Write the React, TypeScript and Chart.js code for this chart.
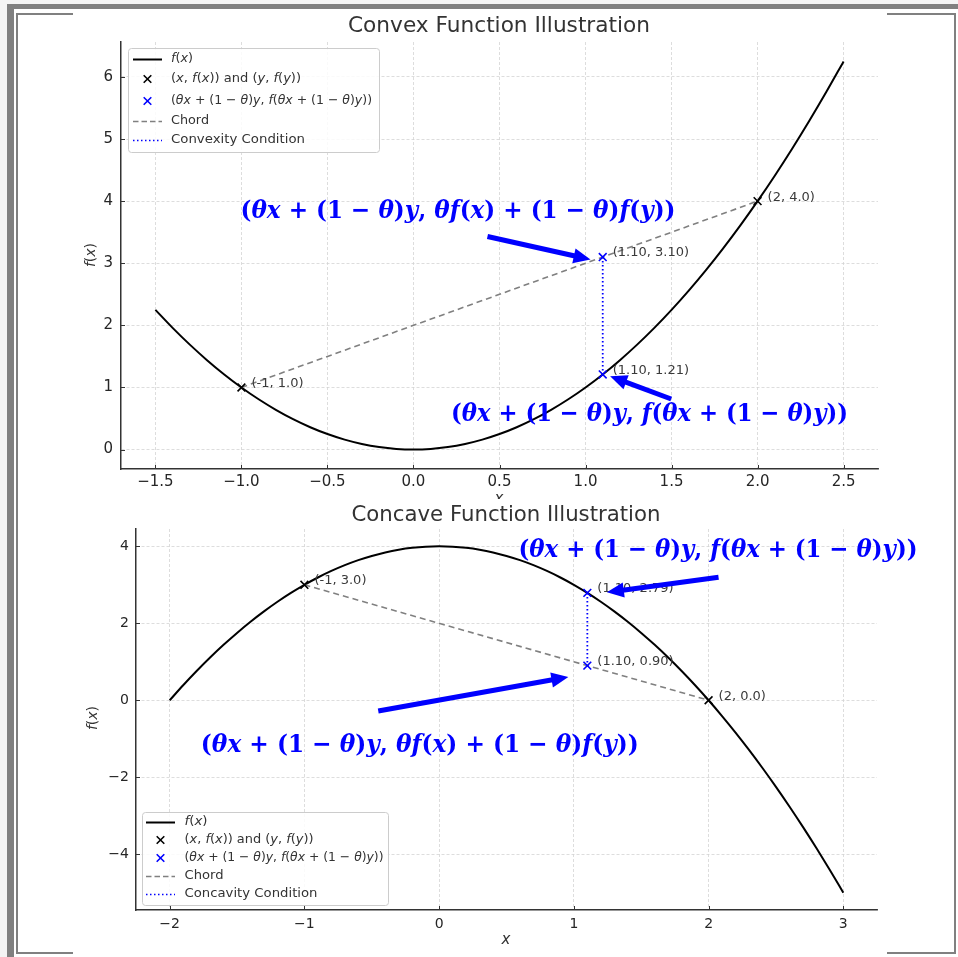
import React, { useEffect, useRef } from "react";
import { Chart, registerables } from "chart.js";

Chart.register(...registerables);

// ---------------- Convex chart data ----------------
const CONVEX_CURVE_X = [-1.5, -1.4, -1.3, -1.2, -1.1, -1.0, -0.9, -0.8, -0.7, -0.6, -0.5, -0.4, -0.3, -0.2, -0.1, 0, 0.1, 0.2, 0.3, 0.4, 0.5, 0.6, 0.7, 0.8, 0.9, 1.0, 1.1, 1.2, 1.3, 1.4, 1.5, 1.6, 1.7, 1.8, 1.9, 2.0, 2.1, 2.2, 2.3, 2.4, 2.5];
const CONVEX_CURVE_Y = [2.25, 1.96, 1.69, 1.44, 1.21, 1, 0.81, 0.64, 0.49, 0.36, 0.25, 0.16, 0.09, 0.04, 0.01, 0, 0.01, 0.04, 0.09, 0.16, 0.25, 0.36, 0.49, 0.64, 0.81, 1, 1.21, 1.44, 1.69, 1.96, 2.25, 2.56, 2.89, 3.24, 3.61, 4, 4.41, 4.84, 5.29, 5.76, 6.25];
const CONVEX_END_X = [-1, 2];
const CONVEX_END_Y = [1.0, 4.0];
const CONVEX_END_LABELS = ["(-1, 1.0)", "(2, 4.0)"];
const CONVEX_MID_X = [1.1, 1.1];
const CONVEX_MID_Y = [3.1, 1.21];
const CONVEX_MID_LABELS = ["(1.10, 3.10)", "(1.10, 1.21)"];
const CONVEX_X_TICKS = [-1.5, -1.0, -0.5, 0.0, 0.5, 1.0, 1.5, 2.0, 2.5];
const CONVEX_Y_TICKS = [0, 1, 2, 3, 4, 5, 6];

// ---------------- Concave chart data ----------------
const CONCAVE_CURVE_X = [-2, -1.9, -1.8, -1.7, -1.6, -1.5, -1.4, -1.3, -1.2, -1.1, -1, -0.9, -0.8, -0.7, -0.6, -0.5, -0.4, -0.3, -0.2, -0.1, 0, 0.1, 0.2, 0.3, 0.4, 0.5, 0.6, 0.7, 0.8, 0.9, 1.0, 1.1, 1.2, 1.3, 1.4, 1.5, 1.6, 1.7, 1.8, 1.9, 2.0, 2.1, 2.2, 2.3, 2.4, 2.5, 2.6, 2.7, 2.8, 2.9, 3.0];
const CONCAVE_CURVE_Y = [0, 0.39, 0.76, 1.11, 1.44, 1.75, 2.04, 2.31, 2.56, 2.79, 3, 3.19, 3.36, 3.51, 3.64, 3.75, 3.84, 3.91, 3.96, 3.99, 4, 3.99, 3.96, 3.91, 3.84, 3.75, 3.64, 3.51, 3.36, 3.19, 3, 2.79, 2.56, 2.31, 2.04, 1.75, 1.44, 1.11, 0.76, 0.39, 0, -0.41, -0.84, -1.29, -1.76, -2.25, -2.76, -3.29, -3.84, -4.41, -5];
const CONCAVE_END_X = [-1, 2];
const CONCAVE_END_Y = [3.0, 0.0];
const CONCAVE_END_LABELS = ["(-1, 3.0)", "(2, 0.0)"];
const CONCAVE_MID_X = [1.1, 1.1];
const CONCAVE_MID_Y = [2.79, 0.9];
const CONCAVE_MID_LABELS = ["(1.10, 2.79)", "(1.10, 0.90)"];
const CONCAVE_X_TICKS = [-2, -1, 0, 1, 2, 3];
const CONCAVE_Y_TICKS = [-4, -2, 0, 2, 4];

// ---------------- Annotation texts ----------------
const ANNOT_CHORD = "(θx + (1 − θ)y, θf(x) + (1 − θ)f(y))";
const ANNOT_FUNC = "(θx + (1 − θ)y, f(θx + (1 − θ)y))";

type Seg = { t: string; m: boolean };
const LEG_FX: Seg[] = [{ t: "f(x)", m: true }];
const LEG_ENDS: Seg[] = [{ t: "(x, f(x))", m: true }, { t: " and ", m: false }, { t: "(y, f(y))", m: true }];
const LEG_MID: Seg[] = [{ t: "(θx + (1 − θ)y, f(θx + (1 − θ)y))", m: true }];
const LEG_CHORD: Seg[] = [{ t: "Chord", m: false }];
const LEG_CONVEX: Seg[] = [{ t: "Convexity Condition", m: false }];
const LEG_CONCAVE: Seg[] = [{ t: "Concavity Condition", m: false }];

// ---------------- helpers ----------------
type Run = { t: string; it: boolean; w?: number; math?: boolean };
function runsOf(segs: Seg[]): Run[] {
  const runs: Run[] = [];
  for (const s of segs) {
    if (!s.m) {
      runs.push({ t: s.t, it: false });
      continue;
    }
    for (const ch of s.t) {
      const it = /[A-Za-zθ]/.test(ch);
      const last = runs[runs.length - 1];
      if (last && last.it === it && last.math) last.t += ch;
      else runs.push({ t: ch, it, math: true });
    }
  }
  return runs;
}

function drawRich(
  ctx: CanvasRenderingContext2D,
  segs: Seg[],
  x: number,
  y: number,
  size: number,
  family: string,
  weight: string,
  color: string,
  align: "left" | "center",
  fitW?: number
) {
  const runs = runsOf(segs);
  const font = (it: boolean) => `${it ? "italic " : ""}${weight} ${size}px ${family}`;
  ctx.save();
  let total = 0;
  for (const r of runs) {
    ctx.font = font(r.it);
    r.w = ctx.measureText(r.t).width;
    total += r.w;
  }
  const sx = fitW ? fitW / total : 1;
  const w = total * sx;
  const left = align === "center" ? x - w / 2 : x;
  ctx.translate(left, y);
  ctx.scale(sx, 1);
  ctx.fillStyle = color;
  ctx.textBaseline = "middle";
  ctx.textAlign = "left";
  let cx = 0;
  for (const r of runs) {
    ctx.font = font(r.it);
    ctx.fillText(r.t, cx, 0);
    cx += r.w!;
  }
  ctx.restore();
}

function drawArrow(ctx: CanvasRenderingContext2D, x1: number, y1: number, x2: number, y2: number, color: string) {
  const a = Math.atan2(y2 - y1, x2 - x1);
  const c = Math.cos(a);
  const s = Math.sin(a);
  const headL = 17;
  const headW = 7.5;
  const bx = x2 - headL * c;
  const by = y2 - headL * s;
  ctx.save();
  ctx.strokeStyle = color;
  ctx.fillStyle = color;
  ctx.lineWidth = 5;
  ctx.lineCap = "butt";
  ctx.beginPath();
  ctx.moveTo(x1, y1);
  ctx.lineTo(bx + c * 1, by + s * 1);
  ctx.stroke();
  ctx.beginPath();
  ctx.moveTo(x2, y2);
  ctx.lineTo(bx - s * headW, by + c * headW);
  ctx.lineTo(bx + s * headW, by - c * headW);
  ctx.closePath();
  ctx.fill();
  ctx.restore();
}

function drawCross(ctx: CanvasRenderingContext2D, x: number, y: number, r: number, color: string) {
  ctx.save();
  ctx.strokeStyle = color;
  ctx.lineWidth = 1.6;
  ctx.beginPath();
  ctx.moveTo(x - r, y - r);
  ctx.lineTo(x + r, y + r);
  ctx.moveTo(x - r, y + r);
  ctx.lineTo(x + r, y - r);
  ctx.stroke();
  ctx.restore();
}

type LegendEntry = { kind: "line" | "mark" | "dash" | "dot"; color: string; segs: Seg[]; w: number };

interface Spec {
  curveX: number[];
  curveY: number[];
  endX: number[];
  endY: number[];
  endLabels: string[];
  midX: number[];
  midY: number[];
  midLabels: string[];
  xTicks: number[];
  yTicks: number[];
  xMin: number;
  xMax: number;
  yMin: number;
  yMax: number;
  xFmt: (v: number) => string;
  yFmt: (v: number) => string;
  tickSize: number;
  xPad: number;
  yPad: number;
  padTop: number;
  padRight: number;
  yW: number;
  xH: number;
  title: string;
  titlePos: [number, number, number];
  yLabelPos: [number, number];
  xLabelPos: [number, number];
  annots: { text: string; pos: [number, number]; w: number; tail: [number, number]; tip: [number, number] }[];
  legend: { box: [number, number, number, number]; rows: number[]; sampleX: number; textX: number; entries: LegendEntry[] };
}

const minus = (s: string) => s.replace("-", "\u2212");

const CONVEX_SPEC: Spec = {
  curveX: CONVEX_CURVE_X,
  curveY: CONVEX_CURVE_Y,
  endX: CONVEX_END_X,
  endY: CONVEX_END_Y,
  endLabels: CONVEX_END_LABELS,
  midX: CONVEX_MID_X,
  midY: CONVEX_MID_Y,
  midLabels: CONVEX_MID_LABELS,
  xTicks: CONVEX_X_TICKS,
  yTicks: CONVEX_Y_TICKS,
  xMin: -1.7,
  xMax: 2.7,
  yMin: -0.3125,
  yMax: 6.5625,
  xFmt: (v) => minus(v.toFixed(1)),
  yFmt: (v) => minus(String(v)),
  tickSize: 15,
  xPad: 4,
  yPad: 8,
  padTop: 33,
  padRight: 9,
  yW: 48,
  xH: 30,
  title: "Convex Function Illustration",
  titlePos: [426, 18, 302],
  yLabelPos: [18, 246],
  xLabelPos: [426, 494],
  annots: [
    { text: ANNOT_CHORD, pos: [0.259, 3.83], w: 435, tail: [0.43, 3.43], tip: [1.029, 3.06] },
    { text: ANNOT_FUNC, pos: [1.372, 0.563], w: 397, tail: [1.498, 0.815], tip: [1.143, 1.179] },
  ],
  legend: {
    box: [55, 39, 251, 104],
    rows: [50, 70, 92, 112, 131],
    sampleX: 60,
    textX: 98,
    entries: [
      { kind: "line", color: "black", segs: LEG_FX, w: 22 },
      { kind: "mark", color: "black", segs: LEG_ENDS, w: 130 },
      { kind: "mark", color: "blue", segs: LEG_MID, w: 201 },
      { kind: "dash", color: "gray", segs: LEG_CHORD, w: 38 },
      { kind: "dot", color: "blue", segs: LEG_CONVEX, w: 134 },
    ],
  },
};

const CONCAVE_SPEC: Spec = {
  curveX: CONCAVE_CURVE_X,
  curveY: CONCAVE_CURVE_Y,
  endX: CONCAVE_END_X,
  endY: CONCAVE_END_Y,
  endLabels: CONCAVE_END_LABELS,
  midX: CONCAVE_MID_X,
  midY: CONCAVE_MID_Y,
  midLabels: CONCAVE_MID_LABELS,
  xTicks: CONCAVE_X_TICKS,
  yTicks: CONCAVE_Y_TICKS,
  xMin: -2.25,
  xMax: 3.25,
  yMin: -5.45,
  yMax: 4.45,
  xFmt: (v) => minus(String(v)),
  yFmt: (v) => minus(String(v)),
  tickSize: 14,
  xPad: 6,
  yPad: 7,
  padTop: 30,
  padRight: 81,
  yW: 63,
  xH: 47,
  title: "Concave Function Illustration",
  titlePos: [433, 17, 309],
  yLabelPos: [20, 219],
  xLabelPos: [433, 445],
  annots: [
    { text: ANNOT_FUNC, pos: [2.07, 3.89], w: 399, tail: [2.074, 3.194], tip: [1.245, 2.806] },
    { text: ANNOT_CHORD, pos: [-0.143, -1.166], w: 438, tail: [-0.452, -0.277], tip: [0.959, 0.604] },
  ],
  legend: {
    box: [69, 313, 246, 93],
    rows: [323, 341, 359, 377, 395],
    sampleX: 73,
    textX: 111.5,
    entries: [
      { kind: "line", color: "black", segs: LEG_FX, w: 23 },
      { kind: "mark", color: "black", segs: LEG_ENDS, w: 129 },
      { kind: "mark", color: "blue", segs: LEG_MID, w: 199 },
      { kind: "dash", color: "gray", segs: LEG_CHORD, w: 39 },
      { kind: "dot", color: "blue", segs: LEG_CONCAVE, w: 133 },
    ],
  },
};

const SANS = '"DejaVu Sans"';
const SERIF = '"DejaVu Serif"';

function buildConfig(spec: Spec): any {
  const pts = (xs: number[], ys: number[]) => xs.map((x, i) => ({ x, y: ys[i] }));
  const overlay = {
    id: "overlay",
    afterDatasetsDraw(chart: any) {
      const ctx: CanvasRenderingContext2D = chart.ctx;
      const xs = chart.scales.x;
      const ys = chart.scales.y;
      const area = chart.chartArea;
      // inward ticks
      ctx.save();
      ctx.strokeStyle = "#333";
      ctx.lineWidth = 1;
      for (const v of spec.xTicks) {
        const p = Math.round(xs.getPixelForValue(v)) + 0.5;
        ctx.beginPath();
        ctx.moveTo(p, area.bottom);
        ctx.lineTo(p, area.bottom - 4);
        ctx.stroke();
      }
      for (const v of spec.yTicks) {
        const p = Math.round(ys.getPixelForValue(v)) + 0.5;
        ctx.beginPath();
        ctx.moveTo(area.left, p);
        ctx.lineTo(area.left + 4, p);
        ctx.stroke();
      }
      ctx.restore();
      // point labels
      ctx.save();
      ctx.font = `13px ${SANS}`;
      ctx.fillStyle = "#3a3a3a";
      ctx.textBaseline = "middle";
      ctx.textAlign = "left";
      spec.endX.forEach((x, i) => {
        ctx.fillText(spec.endLabels[i], xs.getPixelForValue(x) + 10, ys.getPixelForValue(spec.endY[i]) - 4);
      });
      spec.midX.forEach((x, i) => {
        ctx.fillText(spec.midLabels[i], xs.getPixelForValue(x) + 10, ys.getPixelForValue(spec.midY[i]) - 4);
      });
      ctx.restore();
      // annotations
      for (const a of spec.annots) {
        drawRich(
          ctx,
          [{ t: a.text, m: true }],
          xs.getPixelForValue(a.pos[0]),
          ys.getPixelForValue(a.pos[1]),
          25,
          SERIF,
          "bold",
          "#0000ff",
          "center",
          a.w
        );
        drawArrow(
          ctx,
          xs.getPixelForValue(a.tail[0]),
          ys.getPixelForValue(a.tail[1]),
          xs.getPixelForValue(a.tip[0]),
          ys.getPixelForValue(a.tip[1]),
          "#0000ff"
        );
      }
      // legend
      const L = spec.legend;
      ctx.save();
      ctx.fillStyle = "rgba(255,255,255,0.85)";
      ctx.strokeStyle = "#cccccc";
      ctx.lineWidth = 1;
      ctx.beginPath();
      (ctx as any).roundRect(L.box[0] + 0.5, L.box[1] + 0.5, L.box[2], L.box[3], 3);
      ctx.fill();
      ctx.stroke();
      ctx.restore();
      L.entries.forEach((e, i) => {
        const y = L.rows[i];
        ctx.save();
        if (e.kind === "mark") {
          drawCross(ctx, L.sampleX + 14.5, y, 3.8, e.color);
        } else {
          ctx.strokeStyle = e.color;
          ctx.lineWidth = e.kind === "line" ? 2 : 1.5;
          if (e.kind === "dash") ctx.setLineDash([5.5, 3]);
          if (e.kind === "dot") ctx.setLineDash([1.5, 2.5]);
          ctx.beginPath();
          ctx.moveTo(L.sampleX, y + 0.5);
          ctx.lineTo(L.sampleX + 29, y + 0.5);
          ctx.stroke();
        }
        ctx.restore();
        drawRich(ctx, e.segs, L.textX, y, 13, SANS, "normal", "#333333", "left", e.w);
      });
      // titles & axis labels
      drawRich(ctx, [{ t: spec.title, m: false }], spec.titlePos[0], spec.titlePos[1], 21, SANS, "normal", "#333333", "center", spec.titlePos[2]);
      ctx.save();
      ctx.translate(spec.yLabelPos[0], spec.yLabelPos[1]);
      ctx.rotate(-Math.PI / 2);
      drawRich(ctx, [{ t: "f(x)", m: true }], 0, 0, 14, SANS, "normal", "#333333", "center");
      ctx.restore();
      ctx.save();
      ctx.font = `italic 15px ${SANS}`;
      ctx.fillStyle = "#333333";
      ctx.textAlign = "center";
      ctx.textBaseline = "alphabetic";
      ctx.fillText("x", spec.xLabelPos[0], spec.xLabelPos[1]);
      ctx.restore();
    },
  };

  const tickFont = { family: "DejaVu Sans", size: spec.tickSize };
  return {
    type: "line",
    data: {
      datasets: [
        {
          label: "f(x)",
          data: pts(spec.curveX, spec.curveY),
          borderColor: "#000000",
          borderWidth: 2,
          pointRadius: 0,
          cubicInterpolationMode: "monotone",
          fill: false,
          order: 5,
        },
        {
          label: "(x, f(x)) and (y, f(y))",
          data: pts(spec.endX, spec.endY),
          showLine: false,
          pointStyle: "crossRot",
          pointRadius: 5.5,
          pointBorderWidth: 1.6,
          borderColor: "#000000",
          backgroundColor: "#000000",
          order: 1,
        },
        {
          label: "mid",
          data: pts(spec.midX, spec.midY),
          showLine: false,
          pointStyle: "crossRot",
          pointRadius: 5.5,
          pointBorderWidth: 1.6,
          borderColor: "#0000ff",
          backgroundColor: "#0000ff",
          order: 1,
        },
        {
          label: "Chord",
          data: pts(spec.endX, spec.endY),
          borderColor: "#808080",
          borderWidth: 1.6,
          borderDash: [6, 4],
          pointRadius: 0,
          order: 3,
        },
        {
          label: "Condition",
          data: pts(spec.midX, spec.midY),
          borderColor: "#0000ff",
          borderWidth: 1.8,
          borderDash: [1.5, 2.5],
          pointRadius: 0,
          order: 2,
        },
      ],
    },
    options: {
      responsive: false,
      animation: false,
      events: [],
      devicePixelRatio: 1,
      layout: { padding: { top: spec.padTop, right: spec.padRight, left: 0, bottom: 0 } },
      plugins: { legend: { display: false }, tooltip: { enabled: false }, title: { display: false } },
      scales: {
        x: {
          type: "linear",
          min: spec.xMin,
          max: spec.xMax,
          afterBuildTicks: (s: any) => {
            s.ticks = spec.xTicks.map((v) => ({ value: v }));
          },
          afterFit: (s: any) => {
            s.height = spec.xH;
          },
          ticks: {
            autoSkip: false,
            maxRotation: 0,
            padding: spec.xPad,
            color: "#262626",
            font: tickFont,
            callback: (v: number) => spec.xFmt(v),
          },
          grid: { color: "#d4d4d4", lineWidth: 0.8, drawTicks: false },
          border: { display: true, color: "#333333", width: 1.5, dash: [3, 2] },
        },
        y: {
          type: "linear",
          min: spec.yMin,
          max: spec.yMax,
          afterBuildTicks: (s: any) => {
            s.ticks = spec.yTicks.map((v) => ({ value: v }));
          },
          afterFit: (s: any) => {
            s.width = spec.yW;
          },
          ticks: {
            autoSkip: false,
            padding: spec.yPad,
            color: "#262626",
            font: tickFont,
            callback: (v: number) => spec.yFmt(v),
          },
          grid: { color: "#d4d4d4", lineWidth: 0.8, drawTicks: false },
          border: { display: true, color: "#333333", width: 1.5, dash: [3, 2] },
        },
      },
    },
    plugins: [overlay],
  };
}

const G = "#808080";

export default function App() {
  const topRef = useRef<HTMLCanvasElement>(null);
  const botRef = useRef<HTMLCanvasElement>(null);
  useEffect(() => {
    document.body.style.margin = "0";
    const c1 = new Chart(topRef.current!, buildConfig(CONVEX_SPEC));
    const c2 = new Chart(botRef.current!, buildConfig(CONCAVE_SPEC));
    return () => {
      c1.destroy();
      c2.destroy();
    };
  }, []);
  const box = (l: number, t: number, w: number, h: number, bg: string): React.CSSProperties => ({
    position: "absolute",
    left: l,
    top: t,
    width: w,
    height: h,
    background: bg,
  });
  return (
    <div style={{ position: "fixed", left: 0, top: 0, width: 958, height: 957, background: "#f4f4f4", overflow: "hidden" }}>
      <div style={box(7, 4, 951, 953, "#ffffff")} />
      <div style={box(7, 4, 951, 5, G)} />
      <div style={box(7, 4, 7, 953, G)} />
      <div style={box(16, 13, 2, 941, G)} />
      <div style={box(16, 13, 940, 2, G)} />
      <div style={box(954, 13, 2, 941, G)} />
      <div style={box(16, 952, 940, 2, G)} />
      <div style={box(73, 9, 814, 948, "#ffffff")} />
      <canvas ref={topRef} width={814} height={490} style={{ position: "absolute", left: 73, top: 9, width: 814, height: 490 }} />
      <canvas ref={botRef} width={885} height={458} style={{ position: "absolute", left: 73, top: 499, width: 885, height: 458 }} />
    </div>
  );
}
